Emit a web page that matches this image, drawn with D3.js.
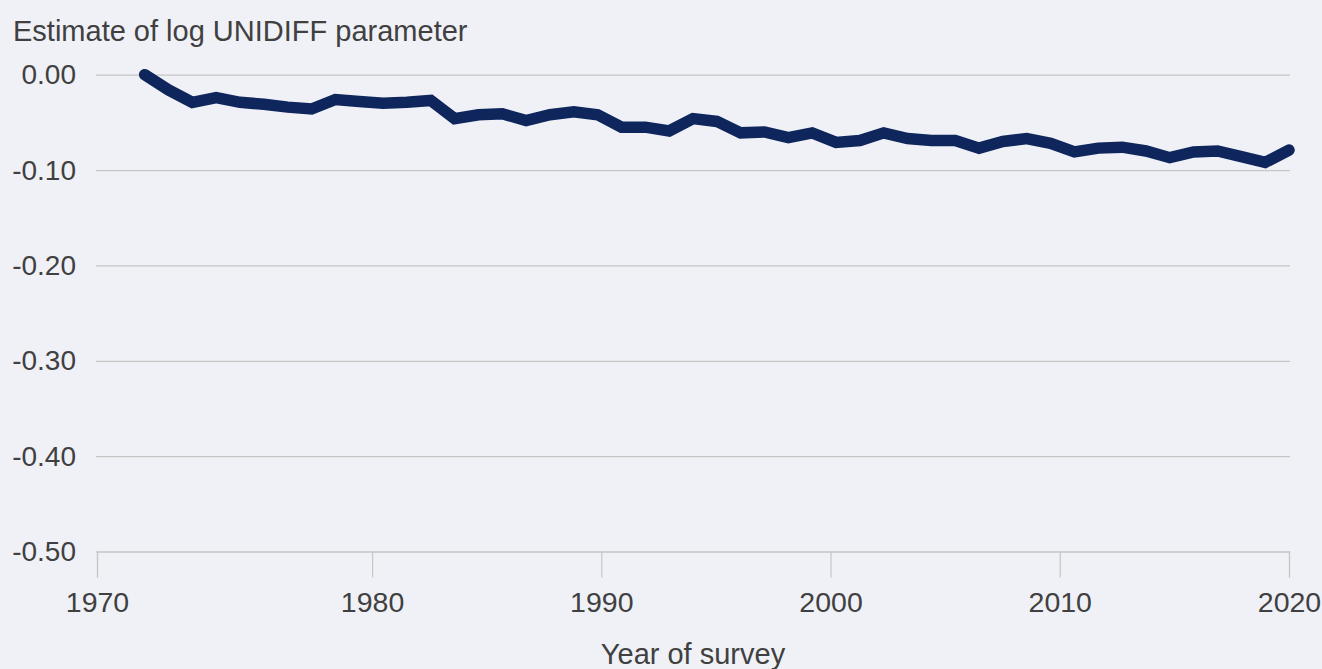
<!DOCTYPE html>
<html>
<head>
<meta charset="utf-8">
<script src="https://cdn.jsdelivr.net/npm/d3@7"></script>
<style>
  html, body { margin: 0; padding: 0; background: #f0f1f7; }
  svg { display: block; }
  text { font-family: "Liberation Sans", Arial, Helvetica, sans-serif; fill: #404040; }
</style>
</head>
<body>
<svg id="chart" width="1322" height="669"></svg>
<script>
// ---- Data ----
const years = [1972, 1973, 1974, 1975, 1976, 1977, 1978, 1979, 1980, 1981,
  1982, 1983, 1984, 1985, 1986, 1987, 1988, 1989, 1990, 1991,
  1992, 1993, 1994, 1995, 1996, 1997, 1998, 1999, 2000, 2001,
  2002, 2003, 2004, 2005, 2006, 2007, 2008, 2009, 2010, 2011,
  2012, 2013, 2014, 2015, 2016, 2017, 2018, 2019, 2020];
const unidiff = [0.000, -0.016, -0.029, -0.024, -0.029, -0.031, -0.034, -0.036, -0.026, -0.028,
  -0.030, -0.029, -0.027, -0.046, -0.042, -0.041, -0.048, -0.042, -0.039, -0.042,
  -0.055, -0.055, -0.059, -0.046, -0.049, -0.061, -0.060, -0.066, -0.061, -0.071,
  -0.069, -0.061, -0.067, -0.069, -0.069, -0.077, -0.070, -0.067, -0.072, -0.081,
  -0.077, -0.076, -0.080, -0.087, -0.081, -0.080, -0.086, -0.092, -0.079];
const yTicks = [0, -0.1, -0.2, -0.3, -0.4, -0.5];
const xTickLabels = ["1970", "1980", "1990", "2000", "2010", "2020"];
const xTickYears = [1968, 1980, 1990, 2000, 2010, 2020]; // first label sits at axis origin
const titleText = "Estimate of log UNIDIFF parameter";
const xTitleText = "Year of survey";

// ---- Layout ----
const W = 1322, H = 669;
const margin = { left: 97, right: 33, top: 74.7, bottom: 117.5 };
const plotL = margin.left, plotR = W - margin.right;
const plotT = margin.top, plotB = H - margin.bottom;

const svg = d3.select("#chart");
svg.append("rect").attr("width", W).attr("height", H).attr("fill", "#f0f1f7");

const y = d3.scaleLinear().domain([-0.5, 0]).range([plotB, plotT]);
const x = d3.scaleLinear().domain([1970, 2020]).range([plotL, plotR]);
const xAxisScale = d3.scaleLinear().domain([xTickYears[0], 2020]).range([plotL, plotR]);

const fmt = d3.format(".2f");
const hyphenFmt = d => fmt(d).replace("\u2212", "-");

// Gridlines + y labels
const yAxis = d3.axisLeft(y)
  .tickValues(yTicks)
  .tickSize(-(plotR - plotL) - 2)
  .tickPadding(20)
  .tickFormat(hyphenFmt);
const gy = svg.append("g").attr("transform", `translate(${plotL - 1},0)`).call(yAxis);
gy.select(".domain").remove();
gy.selectAll(".tick line").attr("stroke", "#c6c6c6").attr("stroke-width", 1.2);
gy.selectAll(".tick text")
  .attr("x", -20)
  .style("font-size", "28px")
  .attr("fill", "#404040")
  .attr("dy", "0.32em");

// X axis
const xAxis = d3.axisBottom(xAxisScale)
  .tickValues(xTickYears)
  .tickSize(26)
  .tickPadding(14)
  .tickFormat((d, i) => xTickLabels[i]);
const gx = svg.append("g").attr("transform", `translate(0,${plotB})`).call(xAxis);
gx.select(".domain").attr("stroke", "#c6c6c6").attr("stroke-width", 1.2);
gx.selectAll(".tick line").attr("stroke", "#c6c6c6").attr("stroke-width", 1.2);
gx.selectAll(".tick text").style("font-size", "28.5px").attr("fill", "#404040");

// Line
const line = d3.line()
  .x((d, i) => x(years[i]))
  .y(d => y(d));
svg.append("path")
  .datum(unidiff)
  .attr("d", line)
  .attr("fill", "none")
  .attr("stroke", "#0e265c")
  .attr("stroke-width", 11.5)
  .attr("stroke-linecap", "round")
  .attr("stroke-linejoin", "miter");

// Titles
svg.append("text")
  .attr("x", 13).attr("y", 41)
  .style("font-size", "29px")
  .text(titleText);
svg.append("text")
  .attr("x", (plotL + plotR) / 2).attr("y", 664)
  .attr("text-anchor", "middle")
  .style("font-size", "29px")
  .text(xTitleText);
</script>
</body>
</html>
